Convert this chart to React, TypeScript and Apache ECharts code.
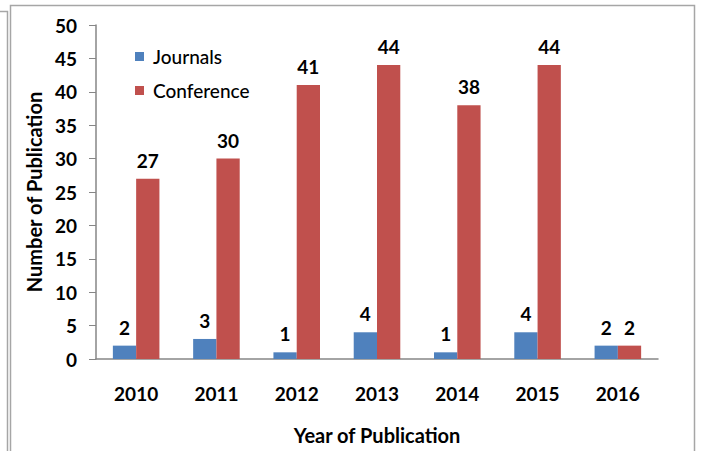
import React, { useEffect, useRef } from "react";
import * as echarts from "echarts";

const years = ["2010", "2011", "2012", "2013", "2014", "2015", "2016"];
const journals = [2, 3, 1, 4, 1, 4, 2];
const conference = [27, 30, 41, 44, 38, 44, 2];

const FONT = "Lato, 'Open Sans', sans-serif";

export default function App() {
  const ref = useRef<HTMLDivElement>(null);
  useEffect(() => {
    const chart = echarts.init(ref.current!, null, { renderer: "svg" });
    const label = {
      show: true,
      position: "top" as const,
      distance: 9,
      color: "#000",
      fontWeight: "bold" as const,
      fontSize: 19,
      fontFamily: FONT,
    };
    chart.setOption({
      animation: false,
      backgroundColor: "#fff",
      textStyle: { fontFamily: FONT },
      graphic: [
        {
          type: "rect",
          shape: { x: 10.5, y: 5.5, width: 684, height: 500 },
          style: { fill: "none", stroke: "#a6a6a6", lineWidth: 1.5 },
          silent: true,
        },
        {
          type: "polyline",
          shape: { points: [[0, 11.5], [7.5, 11.5], [7.5, 460]] },
          style: { fill: "none", stroke: "#a6a6a6", lineWidth: 1.5 },
          silent: true,
        },
      ],
      legend: {
        orient: "vertical",
        left: 130,
        top: 42,
        itemWidth: 9,
        itemHeight: 9,
        itemGap: 15,
        icon: "rect",
        textStyle: { fontSize: 19, fontFamily: FONT, color: "#000", fontWeight: 500, padding: [0, 0, 0, 4] },
        data: ["Journals", "Conference"],
      },
      grid: { left: 96, right: 44, top: 25, bottom: 92, containLabel: false },
      xAxis: {
        type: "category",
        data: years,
        name: "Year of Publication",
        nameLocation: "middle",
        nameGap: 66,
        nameTextStyle: { fontSize: 20, fontWeight: "bold", color: "#000", fontFamily: FONT },
        axisLine: { lineStyle: { color: "#868686", width: 1.5 } },
        axisTick: { show: false },
        axisLabel: { fontSize: 19, fontWeight: "bold", color: "#000", margin: 25, fontFamily: FONT },
      },
      yAxis: {
        type: "value",
        min: 0,
        max: 50,
        interval: 5,
        name: "Number of Publication",
        nameLocation: "middle",
        nameGap: 52,
        nameTextStyle: { fontSize: 20, fontWeight: "bold", color: "#000", fontFamily: FONT },
        axisLine: { show: true, lineStyle: { color: "#868686", width: 1.5 } },
        axisTick: { show: true, inside: false, length: 7, lineStyle: { color: "#868686" } },
        splitLine: { show: false },
        axisLabel: { fontSize: 19, fontWeight: "bold", color: "#000", margin: 19, fontFamily: FONT },
      },
      series: [
        {
          name: "Journals",
          type: "bar",
          data: journals,
          barGap: "0%",
          barCategoryGap: "42%",
          itemStyle: { color: "#4F81BD" },
          label,
        },
        {
          name: "Conference",
          type: "bar",
          data: conference,
          itemStyle: { color: "#C0504D" },
          label,
        },
      ],
    });
    return () => chart.dispose();
  }, []);
  return <div ref={ref} style={{ width: 702, height: 451, position: "absolute", left: 0, top: 0 }} />;
}
